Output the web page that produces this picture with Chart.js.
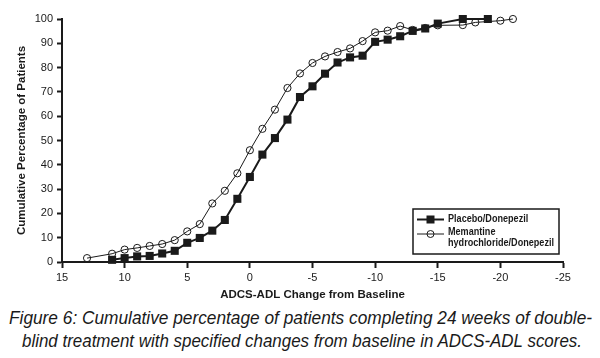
<!DOCTYPE html>
<html>
<head>
<meta charset="utf-8">
<script src="https://cdn.jsdelivr.net/npm/chart.js@4"></script>
<style>
  html, body { margin: 0; padding: 0; background: #fff; }
  #wrap { position: relative; width: 600px; height: 358px; overflow: hidden; }
  #c { position: absolute; left: 0; top: 0; }
  .cap { position: absolute; left: 0; width: 600px; height: 24px; white-space: nowrap;
         font-family: "Liberation Sans", Arial, sans-serif;
         font-style: italic; font-size: 19px; line-height: 24px; color: #1a1a1a; }
  .cap span { display: inline-block; transform-origin: 0 50%; }
</style>
</head>
<body>
<div id="wrap">
  <canvas id="c" width="600" height="305"></canvas>
  <div class="cap" id="cap1" style="top:306px"><span>Figure 6: Cumulative percentage of patients completing 24 weeks of double-</span></div>
  <div class="cap" id="cap2" style="top:329px"><span>blind treatment with specified changes from baseline in ADCS-ADL scores.</span></div>
</div>
<script>
const placeboX = [11,10,9,8,7,6,5,4,3,2,1,0,-1,-2,-3,-4,-5,-6,-7,-8,-9,-10,-11,-12,-13,-14,-15,-17,-19];
const placeboY = [0.9,1.6,2.3,2.5,3.5,4.6,7.9,9.9,12.9,17.3,26.0,35.0,44.2,51.0,58.6,67.9,72.3,77.5,82.1,84.2,84.9,90.6,91.5,92.9,95.1,96.1,98.1,100,100];
const memantineX = [13,11,10,9,8,7,6,5,4,3,2,1,0,-1,-2,-3,-4,-5,-6,-7,-8,-9,-10,-11,-12,-13,-14,-15,-17,-18,-20,-21];
const memantineY = [1.6,3.4,5.1,5.8,6.6,7.4,9.0,12.6,15.6,24.1,29.3,36.5,46.0,54.8,62.7,71.6,77.6,81.9,84.6,86.4,87.9,90.9,94.5,95.2,97.1,95.5,96.3,97.4,97.5,98.6,99.3,100];
const seriesNames = ["Placebo/Donepezil", ["Memantine", "hydrochloride/Donepezil"]];
const xTicks = [15,10,5,0,-5,-10,-15,-20,-25];
const yTicks = [0,10,20,30,40,50,60,70,80,90,100];

const INK = '#1a1a1a';
const FONT = '"Liberation Sans", Arial, sans-serif';

// condense caption lines to the reference widths
[['cap1', 583, 9], ['cap2', 560, 22]].forEach(([id, target, left]) => {
  const sp = document.querySelector('#' + id + ' span');
  const w = sp.getBoundingClientRect().width;
  sp.style.transform = 'translateX(' + left + 'px) scaleX(' + (target / w) + ')';
});

function pts(xs, ys) { return xs.map((x, i) => ({x: x, y: ys[i]})); }

const legendPlugin = {
  id: 'boxLegend',
  afterDraw(chart) {
    const ctx = chart.ctx;
    const x0 = 413, y0 = 209, w = 146, h = 45;
    ctx.save();
    ctx.strokeStyle = INK; ctx.lineWidth = 1.5;
    ctx.strokeRect(x0, y0, w, h);
    const rows = [219.5, 234];
    ctx.font = 'bold 10.5px ' + FONT;
    const sx = 106 / ctx.measureText('hydrochloride/Donepezil').width;
    chart.data.datasets.forEach((ds, i) => {
      const y = rows[i];
      ctx.strokeStyle = INK; ctx.lineWidth = ds.borderWidth;
      ctx.beginPath(); ctx.moveTo(417, y); ctx.lineTo(444, y); ctx.stroke();
      if (i === 0) {
        ctx.fillStyle = INK; ctx.fillRect(426.5, y - 4, 8, 8);
      } else {
        ctx.lineWidth = 1; ctx.beginPath(); ctx.arc(430.5, y, 3.5, 0, Math.PI * 2); ctx.stroke();
      }
      ctx.fillStyle = INK; ctx.textBaseline = 'middle'; ctx.textAlign = 'left';
      const lbl = Array.isArray(ds.label) ? ds.label : [ds.label];
      lbl.forEach((t, k) => {
        ctx.save();
        ctx.translate(448, y - 2 + (i === 1 ? k * 11.5 : 2));
        ctx.scale(sx, 1);
        ctx.fillText(t, 0, 0);
        ctx.restore();
      });
    });
    ctx.restore();
  }
};

new Chart(document.getElementById('c'), {
  type: 'line',
  data: {
    datasets: [
      { label: seriesNames[0], data: pts(placeboX, placeboY), borderColor: INK, borderWidth: 2, clip: false,
        pointStyle: 'rect', pointRadius: 5.7, pointBackgroundColor: INK, pointBorderColor: INK, pointBorderWidth: 0, tension: 0 },
      { label: seriesNames[1], data: pts(memantineX, memantineY), borderColor: INK, borderWidth: 1, clip: false,
        pointStyle: 'circle', pointRadius: 3.6, pointBackgroundColor: 'rgba(0,0,0,0)', pointBorderColor: INK, pointBorderWidth: 1, tension: 0 }
    ]
  },
  options: {
    responsive: false, animation: false,
    layout: { padding: { left: 0, right: 37, top: 19, bottom: 0 } },
    plugins: { legend: { display: false }, tooltip: { enabled: false } },
    scales: {
      x: {
        type: 'linear', reverse: true, min: -25, max: 15,
        afterBuildTicks(s) { s.ticks = xTicks.map(v => ({value: v})); },
        afterFit(s) { s.height = 43; },
        ticks: { color: INK, font: { family: FONT, size: 11 }, padding: 3, maxRotation: 0 },
        grid: { display: true, drawOnChartArea: false, tickLength: 6, tickWidth: 2, color: INK },
        border: { display: true, color: INK, width: 2 },
        title: { display: true, text: 'ADCS-ADL Change from Baseline', color: INK,
                 font: { family: FONT, size: 11.5, weight: 'bold' }, padding: { top: 0, bottom: 3.5 } }
      },
      y: {
        min: 0, max: 100,
        afterBuildTicks(s) { s.ticks = yTicks.map(v => ({value: v})); },
        afterFit(s) { s.width = 62; },
        ticks: { color: INK, font: { family: FONT, size: 11 }, padding: 4 },
        grid: { display: true, drawOnChartArea: false, tickLength: 5, tickWidth: 2, color: INK },
        border: { display: true, color: INK, width: 2 },
        title: { display: true, text: 'Cumulative Percentage of Patients', color: INK,
                 font: { family: FONT, size: 11.5, weight: 'bold' }, padding: { top: 15, bottom: 0 } }
      }
    }
  },
  plugins: [legendPlugin]
});
</script>
</body>
</html>
